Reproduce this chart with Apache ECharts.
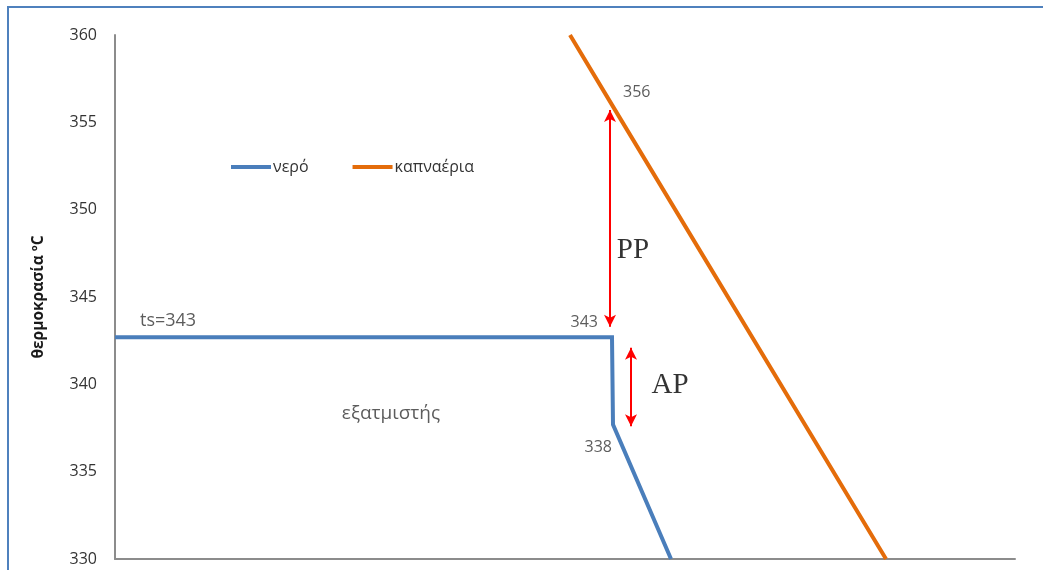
<!DOCTYPE html>
<html>
<head>
<meta charset="utf-8">
<script src="https://cdn.jsdelivr.net/npm/echarts@6/dist/echarts.min.js"></script>
<style>
  html, body { margin: 0; padding: 0; background: #fff; }
  #chart { width: 1043px; height: 570px; }
</style>
</head>
<body>
<div id="chart"></div>
<script>
// Temperature profile along the evaporator: water (νερό) and flue gas (καπναέρια)
const seriesNames = ['νερό', 'καπναέρια'];
const waterX = [0, 497, 498, 556];
const waterT = [342.7, 342.7, 337.7, 330];
const gasX = [455, 497, 771];
const gasT = [360, 356, 330];
const yTicks = [330, 335, 340, 345, 350, 355, 360];

// Pinch point (PP) and approach point (AP) spans: [x, from, to]
const ppSpan = [495, 355.7, 343.3];
const apSpan = [516, 342.1, 337.6];

const pair = (xs, ys) => xs.map((x, i) => [x, ys[i]]);
const fmt = v => String(Math.round(v));

const textColor = '#333333';
const labelFont = { fontFamily: 'Open Sans', fontSize: 16, color: textColor };

function valueLabel(x, y, text, dx, dy, align, size) {
  return {
    value: [x, y],
    label: Object.assign({
      show: true, position: 'inside', formatter: text,
      offset: [dx, dy], align: align, verticalAlign: 'middle'
    }, labelFont, size ? { fontSize: size } : {})
  };
}

const chart = echarts.init(document.getElementById('chart'), null, { renderer: 'canvas' });

chart.setOption({
  animation: false,
  backgroundColor: '#ffffff',
  grid: { left: 115, right: 28, top: 35, bottom: 11 },
  legend: {
    data: seriesNames,
    left: 226, top: 154,
    icon: 'rect', itemWidth: 40, itemHeight: 4, itemGap: 44,
    textStyle: { fontFamily: 'Open Sans', fontSize: 16, color: textColor, padding: [0, 0, 0, -3] }
  },
  xAxis: {
    type: 'value', min: 0, max: 900,
    axisLine: { show: true, lineStyle: { color: '#8c8c8c', width: 2 } },
    axisTick: { show: false }, axisLabel: { show: false }, splitLine: { show: false }
  },
  yAxis: {
    type: 'value', min: yTicks[0], max: yTicks[yTicks.length - 1], interval: 5,
    name: 'θερμοκρασία ºC', nameLocation: 'middle', nameGap: 68, nameRotate: 90,
    nameTextStyle: { fontFamily: 'Open Sans', fontSize: 15.5, fontWeight: 'bold', color: '#1a1a1a' },
    axisLine: { show: true, lineStyle: { color: '#8c8c8c', width: 2 } },
    axisTick: { show: false }, splitLine: { show: false },
    axisLabel: { margin: 18, fontFamily: 'Open Sans', fontSize: 16, color: textColor }
  },
  series: [
    {
      name: seriesNames[0], type: 'line', data: pair(waterX, waterT),
      symbol: 'none', color: '#4a7ebb',
      lineStyle: { width: 4, color: '#4a7ebb', join: 'miter' }, silent: true
    },
    {
      name: seriesNames[1], type: 'line', data: pair(gasX, gasT),
      symbol: 'none', color: '#e46c0a',
      lineStyle: { width: 4, color: '#e46c0a' }, silent: true
    },
    {
      name: 'spans', type: 'line', data: [], silent: true,
      markLine: {
        silent: true, symbol: ['arrow', 'arrow'], symbolSize: [9, 12],
        label: { show: false },
        lineStyle: { color: '#ff0000', width: 2, type: 'solid' },
        emphasis: { disabled: true },
        data: [
          [{ coord: [ppSpan[0], ppSpan[1]] }, { coord: [ppSpan[0], ppSpan[2]] }],
          [{ coord: [apSpan[0], apSpan[1]] }, { coord: [apSpan[0], apSpan[2]] }]
        ]
      }
    },
    {
      name: 'values', type: 'scatter', silent: true, symbolSize: 1,
      itemStyle: { color: 'rgba(0,0,0,0)' },
      data: [
        valueLabel(waterX[0], waterT[0], 'ts=' + fmt(waterT[0]), 25, -16, 'left', 18),
        valueLabel(waterX[1], waterT[1], fmt(waterT[1]), -14, -15, 'right'),
        valueLabel(waterX[2], waterT[2], fmt(waterT[2]), -1, 23, 'right'),
        valueLabel(gasX[1], gasT[1], fmt(gasT[1]), 11, -12, 'left')
      ]
    },
    {
      name: 'notes', type: 'scatter', silent: true, symbolSize: 1,
      itemStyle: { color: 'rgba(0,0,0,0)' },
      data: [
        { value: [276, 338.35], label: Object.assign({ show: true, position: 'inside', formatter: 'εξατμιστής' }, labelFont, { fontSize: 19 }) },
        { value: [518, 347.65], label: { show: true, position: 'inside', formatter: 'PP', fontFamily: 'Liberation Serif', fontSize: 29, color: '#000' } },
        { value: [555, 339.95], label: { show: true, position: 'inside', formatter: 'AP', fontFamily: 'Liberation Serif', fontSize: 29, color: '#000' } }
      ]
    }
  ],
  graphic: [
    {
      type: 'rect', silent: true, z: 100,
      shape: { x: 8, y: 7, width: 1060, height: 600 },
      style: { fill: 'none', stroke: '#4f81bd', lineWidth: 2 }
    }
  ]
});
</script>
</body>
</html>
